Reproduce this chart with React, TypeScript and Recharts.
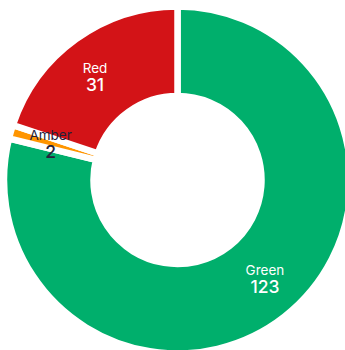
import React from 'react'
import { PieChart, Pie, Cell } from 'recharts'

const names = ['Green', 'Amber', 'Red']
const values = [123, 2, 31]
const colors = ['#00AF6C', '#FF9500', '#D31317']
const labelColors = ['#ffffff', '#25213b', '#ffffff']
// small angular nudge for each label (degrees)
const labelShift = [3.5, 0.5, 3]

const data = names.map((name, i) => ({ name, value: values[i] }))

const RADIAN = Math.PI / 180

const renderLabel = (props: any) => {
  const { cx, cy, midAngle, innerRadius, outerRadius, index } = props
  const angle = midAngle + labelShift[index]
  const r = (innerRadius + outerRadius) / 2 + 3
  const x = cx + r * Math.cos(-angle * RADIAN)
  const y = cy + r * Math.sin(-angle * RADIAN)
  return (
    <g>
      <text x={x} y={y - 4} textAnchor="middle" fill={labelColors[index]} fontSize={13.5} fontFamily="Inter, sans-serif">
        {names[index]}
      </text>
      <text x={x} y={y + 14} textAnchor="middle" fill={labelColors[index]} fontSize={17.5} fontWeight={500} fontFamily="Inter, sans-serif">
        {values[index]}
      </text>
    </g>
  )
}

const App: React.FC = () => {
  return (
    <div style={{ position: 'absolute', left: 0, top: 0 }}>
      <PieChart width={345} height={350} margin={{ top: 0, right: 0, bottom: 0, left: 0 }}>
        <Pie
          data={data}
          dataKey="value"
          nameKey="name"
          cx={177.5}
          cy={180}
          startAngle={90}
          endAngle={-270}
          innerRadius={84}
          outerRadius={173.5}
          stroke="#ffffff"
          strokeWidth={6.5}
          labelLine={false}
          label={renderLabel}
          isAnimationActive={false}
        >
          {data.map((d, i) => (
            <Cell key={d.name} fill={colors[i]} />
          ))}
        </Pie>
      </PieChart>
    </div>
  )
}

export default App
